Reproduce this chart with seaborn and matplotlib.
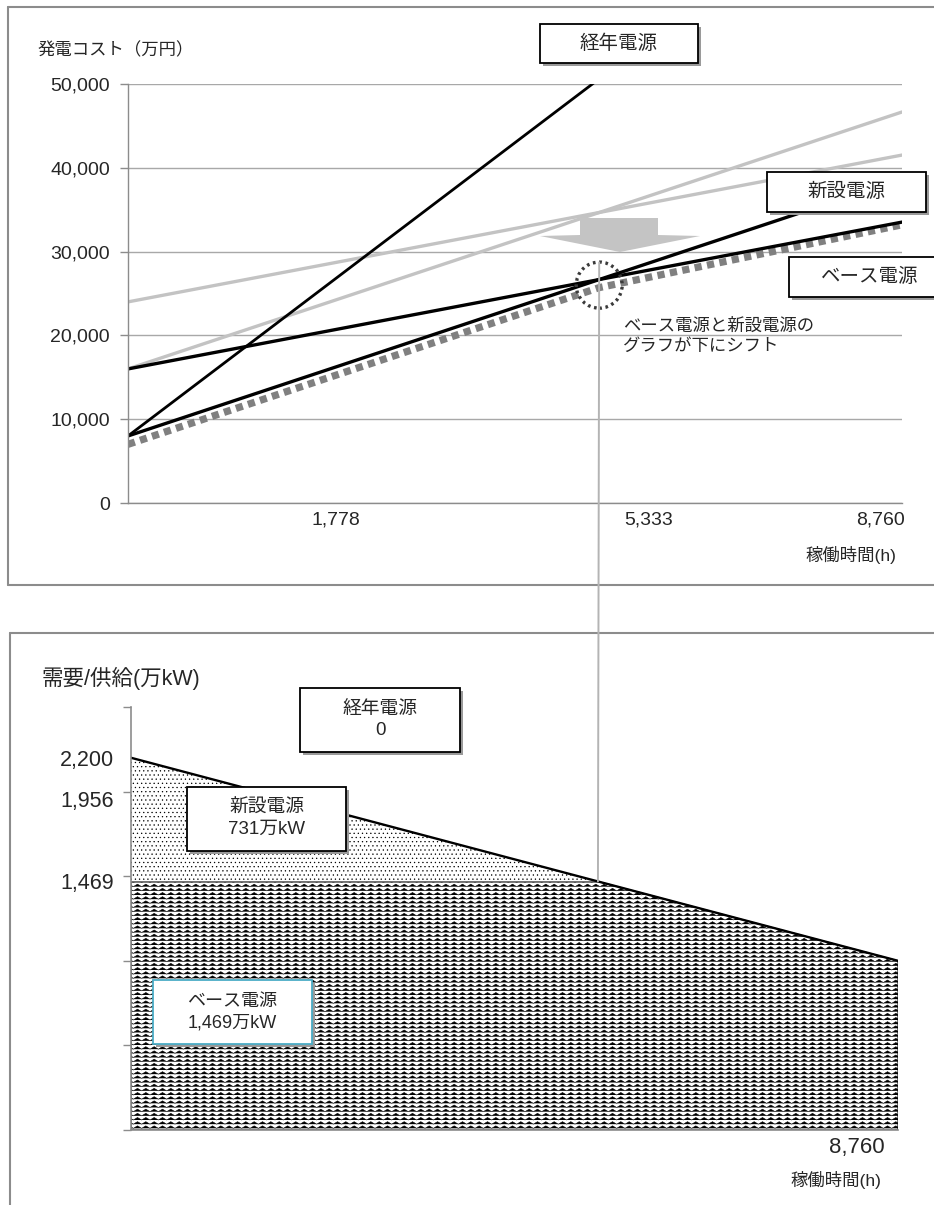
import numpy as np
import matplotlib
matplotlib.use("Agg")
import matplotlib.pyplot as plt
import matplotlib.hatch as mhatch
from matplotlib.path import Path
from matplotlib.patches import Rectangle, Polygon, Ellipse, ConnectionPatch
from matplotlib.lines import Line2D
from matplotlib.ticker import FuncFormatter, FixedLocator
import seaborn as sns

# ---- values ----
hours = [0, 8760]
old_plant_cost = [8000, 78000]        # 経年電源 (black, steep)
new_plant_cost = [8000, 38660]        # 新設電源 (black)
base_plant_cost = [16000, 33520]      # ベース電源 (black)
new_plant_before = [16000, 46660]     # grey, before the shift
base_plant_before = [24000, 41520]    # grey, before the shift
envelope_hours = [0, 5333, 8760]
shifted_envelope = [7000, 25700, 33200]   # thick dotted grey

cost_ticks = [0, 10000, 20000, 30000, 40000, 50000]
hour_labels = ["1,778", "5,333", "8,760"]
hour_label_pos = [2354, 5897, 8522]
crossing_hour = 5333
crossing_cost = 26000
circle_top_cost = 28700

demand_hours = [0, 5333, 8760]
demand = [2200, 1469, 1000]
base_capacity = 1469
demand_ticks = [0, 500, 1000, 1500, 2000, 2500]
demand_label_vals = [2200, 1956, 1469]

top_boxes = ["経年電源", "新設電源", "ベース電源"]
bottom_boxes = ["経年電源\n0", "新設電源\n731万kW", "ベース電源\n1,469万kW"]
shift_note = "ベース電源と新設電源の\nグラフが下にシフト"


# zigzag hatch drawn for '-' (the reference uses a wavy texture for base load)
class ZigzagHatch(mhatch.HatchPatternBase):
    def __init__(self, hatch, density):
        self.num_lines = int(hatch.count('-') * density)
        self.teeth = 12
        self.num_vertices = self.num_lines * (2 * self.teeth + 1)

    def set_vertices_and_codes(self, vertices, codes):
        n = 2 * self.teeth + 1
        xs = np.linspace(0.0, 1.0, n)
        step = 1.0 / self.num_lines
        wiggle = np.where(np.arange(n) % 2 == 0, -0.3, 0.3) * step
        for i in range(self.num_lines):
            sl = slice(i * n, (i + 1) * n)
            vertices[sl, 0] = xs
            vertices[sl, 1] = (i + 0.5) * step + wiggle
            codes[i * n] = Path.MOVETO
            codes[i * n + 1:(i + 1) * n] = Path.LINETO


mhatch._hatch_types[0] = ZigzagHatch

sns.set_theme(style="white")
plt.rcParams["font.family"] = ["Liberation Sans", "Noto Sans CJK JP"]
plt.rcParams["hatch.linewidth"] = 0.4
plt.rcParams["hatch.color"] = "black"

W, H = 934, 1205
fig = plt.figure(figsize=(W / 100, H / 100), dpi=100)


def fx(x):
    return x / W


def fy(y):
    return 1 - y / H


GRID = "#a8a8a8"
SPINE = "#8c8c8c"

# ---------- top panel: cost lines ----------
ax1 = fig.add_axes([fx(128), fy(503), (902 - 128) / W, (503 - 84) / H])
sns.lineplot(x=hours, y=base_plant_before, ax=ax1, color="#c3c3c3", linewidth=2.4)
sns.lineplot(x=hours, y=new_plant_before, ax=ax1, color="#c3c3c3", linewidth=2.4)
sns.lineplot(x=envelope_hours, y=shifted_envelope, ax=ax1, color="#808080",
             linewidth=5.2, linestyle=(0, (1.0, 0.75)), dash_capstyle="butt")
sns.lineplot(x=hours, y=base_plant_cost, ax=ax1, color="black", linewidth=2.4)
sns.lineplot(x=hours, y=new_plant_cost, ax=ax1, color="black", linewidth=2.4)
sns.lineplot(x=hours, y=old_plant_cost, ax=ax1, color="black", linewidth=2.0)

ax1.set_xlim(0, 8760)
ax1.set_ylim(0, 50000)
ax1.yaxis.set_major_locator(FixedLocator(cost_ticks))
ax1.yaxis.set_major_formatter(FuncFormatter(lambda v, p: f"{v:,.0f}"))
ax1.set_xticks(hour_label_pos)
ax1.set_xticklabels(hour_labels)
ax1.tick_params(axis="y", left=True, length=6, width=1, color=SPINE, pad=7, labelsize=14)
ax1.tick_params(axis="x", length=0, pad=6, labelsize=14)
ax1.yaxis.grid(True, color=GRID, linewidth=1)
ax1.xaxis.grid(False)
for side in ["top", "right"]:
    ax1.spines[side].set_visible(False)
for side in ["left", "bottom"]:
    ax1.spines[side].set_color(SPINE)
    ax1.spines[side].set_linewidth(1)
ax1.set_xlabel("")
ax1.set_ylabel("")

ax1.add_patch(Ellipse((crossing_hour, crossing_cost), 520, 5500, fill=False,
                      edgecolor="#3a3a3a", linewidth=2.4, linestyle=(0, (0.8, 1.1)), zorder=6))

# ---------- bottom panel: demand / supply ----------
ax2 = fig.add_axes([fx(131), fy(1130), (898 - 131) / W, (1130 - 707) / H])
base_top = np.minimum(demand, base_capacity)
ax2.fill_between(demand_hours, 0, base_top, facecolor="white", edgecolor="black",
                 hatch="----", linewidth=0.8)
ax2.fill_between(demand_hours, base_top, demand, facecolor="white", edgecolor="black",
                 hatch="....", linewidth=0)
sns.lineplot(x=demand_hours, y=demand, ax=ax2, color="black", linewidth=1.7)

ax2.set_xlim(0, 8760)
ax2.set_ylim(0, 2500)
ax2.set_xticks([])
ax2.yaxis.set_major_locator(FixedLocator(demand_ticks))
ax2.yaxis.set_major_formatter(FuncFormatter(lambda v, p: ""))
ax2.yaxis.set_minor_locator(FixedLocator(demand_label_vals))
ax2.yaxis.set_minor_formatter(FuncFormatter(lambda v, p: f"{v:,.0f}"))
ax2.tick_params(axis="y", which="major", left=True, length=6, width=1, color=SPINE)
ax2.tick_params(axis="y", which="minor", left=True, length=0, pad=12, labelsize=15.5)
for side in ["top", "right"]:
    ax2.spines[side].set_visible(False)
for side in ["left", "bottom"]:
    ax2.spines[side].set_color(SPINE)
    ax2.spines[side].set_linewidth(1.2)
ax2.set_xlabel("")
ax2.set_ylabel("")

# vertical guide joining the crossing in both panels
guide = ConnectionPatch(xyA=(crossing_hour, circle_top_cost), coordsA=ax1.transData,
                        xyB=(crossing_hour, base_capacity), coordsB=ax2.transData,
                        color="#b4b4b4", linewidth=1.4, zorder=4)
fig.add_artist(guide)

# panel frames
for (x0, y0, x1, y1) in [(8, 7, 8, 585), (8, 7, W, 7), (8, 585, W, 585),
                         (10, 633, 10, H), (10, 633, W, 633)]:
    fig.add_artist(Line2D([fx(x0), fx(x1)], [fy(y0), fy(y1)], transform=fig.transFigure,
                          color=SPINE, linewidth=1.5))

# grey down arrow
arrow_px = [(580, 218), (658, 218), (658, 235), (700, 236), (620, 252), (540, 236), (580, 235)]
fig.add_artist(Polygon([(fx(x), fy(y)) for x, y in arrow_px], closed=True,
                       transform=fig.transFigure, facecolor="#c4c4c4", edgecolor="none", zorder=3))


def label_box(x0, y0, x1, y1, text, fs=14, edge="black"):
    w, h = (x1 - x0) / W, (y1 - y0) / H
    fig.add_artist(Rectangle((fx(x0 + 3), fy(y1 + 3)), w, h, transform=fig.transFigure,
                             facecolor="#9a9a9a", edgecolor="none", zorder=5))
    fig.add_artist(Rectangle((fx(x0), fy(y1)), w, h, transform=fig.transFigure,
                             facecolor="white", edgecolor=edge, linewidth=1.3, zorder=6))
    fig.text(fx((x0 + x1) / 2), fy((y0 + y1) / 2), text, ha="center", va="center",
             fontsize=fs, linespacing=1.35, zorder=7)


label_box(540, 24, 698, 63, top_boxes[0])
label_box(767, 172, 926, 212, top_boxes[1])
label_box(789, 257, 951, 297, top_boxes[2])
label_box(300, 688, 460, 752, bottom_boxes[0], fs=13.5)
label_box(187, 787, 346, 851, bottom_boxes[1], fs=13.5)
label_box(153, 980, 312, 1044, bottom_boxes[2], fs=13, edge="#4bacc6")

fig.text(fx(623), fy(318), shift_note, ha="left", va="top", fontsize=12.5, linespacing=1.35)
fig.text(fx(37), fy(50), "発電コスト（万円）", ha="left", va="center", fontsize=12.5)
fig.text(fx(896), fy(555), "稼働時間(h)", ha="right", va="center", fontsize=12.5)
fig.text(fx(42), fy(678), "需要/供給(万kW)", ha="left", va="center", fontsize=15.5)
fig.text(fx(885), fy(1147), "8,760", ha="right", va="center", fontsize=16)
fig.text(fx(881), fy(1180), "稼働時間(h)", ha="right", va="center", fontsize=12.5)

fig.savefig("out.png", dpi=100, facecolor="white")
